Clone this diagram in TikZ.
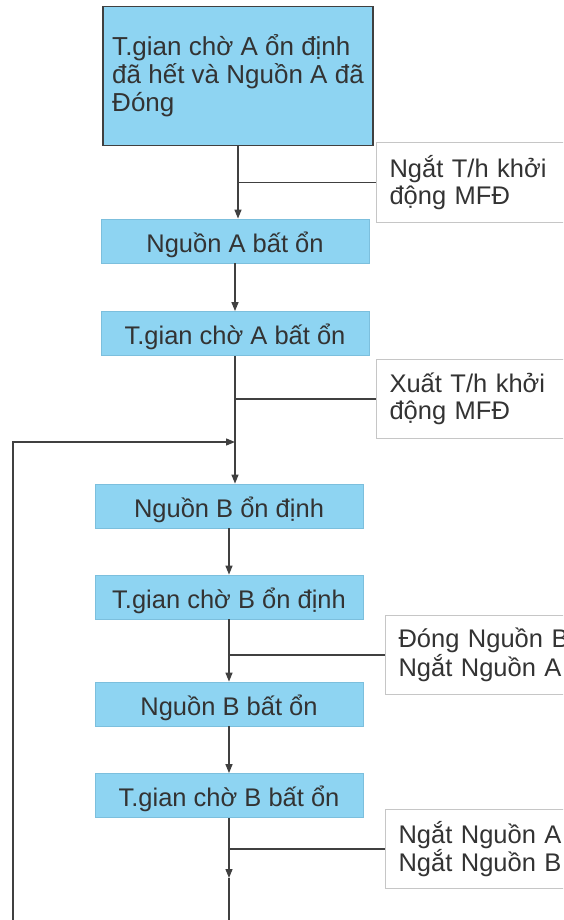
\documentclass[tikz,border=0pt]{standalone}
\usepackage{fontspec}
\setmainfont{Liberation Sans}
\usetikzlibrary{arrows.meta}

\definecolor{boxblue}{HTML}{8ED4F2}
\definecolor{boxedge}{HTML}{7CBFDD}
\definecolor{linegray}{HTML}{404040}
\definecolor{textgray}{HTML}{333333}
\definecolor{sidegray}{HTML}{C6C6C6}

\tikzset{
  stepbox/.style={fill=boxblue, draw=boxedge, line width=0.8pt, text=textgray,
    minimum width=268pt, minimum height=44pt, inner sep=0pt,
    text height=25pt, text depth=3pt,
    font=\fontsize{25.5}{28}\selectfont},
  sidebox/.style={fill=white, draw=sidegray, line width=1pt, text=textgray,
    anchor=west, align=left, text width=190pt, inner xsep=13pt,
    minimum height=79pt, font=\fontsize{25.5}{27}\selectfont},
  flow/.style={draw=linegray, line width=1.3pt},
  arr/.style={-{Triangle[length=9pt,width=7pt]}}
}

\begin{document}
\begin{tikzpicture}[x=1pt,y=-1pt]
\useasboundingbox (0,0) rectangle (563,920);
\clip (0,0) rectangle (563,920);

% boxes of the A side
\node[stepbox, draw=linegray, line width=1.3pt, align=left,
  text height=, text depth=, minimum width=270pt, minimum height=139pt,
  font=\fontsize{26}{28}\selectfont]
  (chodinhA) at (238,76) {T.gian chờ A ổn định\\đã hết và Nguồn A đã\\Đóng};
\node[stepbox] (batonA) at (235,241) {Nguồn A bất ổn};
\node[stepbox] (chobatonA) at (235,333.5) {T.gian chờ A bất ổn};

% boxes of the B side
\node[stepbox] (ondinhB) at (229,506) {Nguồn B ổn định};
\node[stepbox] (chodinhB) at (229,597) {T.gian chờ B ổn định};
\node[stepbox] (batonB) at (229,704) {Nguồn B bất ổn};
\node[stepbox] (chobatonB) at (229,795.5) {T.gian chờ B bất ổn};

% signals on the right
\node[sidebox] (ngatTH) at (376,182.5) {Ngắt T/h khởi\\động MFĐ};
\node[sidebox] (xuatTH) at (376,399) {Xuất T/h khởi\\động MFĐ};
\node[sidebox] (dongB) at (385,655) {Đóng Nguồn B\\Ngắt Nguồn A};
\node[sidebox] (ngatAB) at (385,849) {Ngắt Nguồn A\\Ngắt Nguồn B};

% free ends and the loop back
\coordinate (tipbot) at (229,878);
\coordinate (outbot) at (229,935);
\coordinate (loopstart) at (13,935);
\coordinate (loopcorner) at (13,442);

% main flow
\draw[flow,arr] (chodinhA.south) -- (chodinhA.south |- batonA.north);
\draw[flow,arr] (batonA.south) -- (batonA.south |- chobatonA.north);
\draw[flow,arr] (chobatonA.south) -- (chobatonA.south |- ondinhB.north);
\draw[flow,arr] (ondinhB.south) -- (chodinhB.north);
\draw[flow,arr] (chodinhB.south) -- (batonB.north);
\draw[flow,arr] (batonB.south) -- (chobatonB.north);
\draw[flow,arr] (chobatonB.south) -- (tipbot);
\draw[flow] (tipbot) -- (outbot);

% branches to the signals
\draw[flow] (chodinhA.south |- ngatTH.west) -- (ngatTH.west);
\draw[flow] (chobatonA.south |- xuatTH.west) -- (xuatTH.west);
\draw[flow] (chodinhB.south |- dongB.west) -- (dongB.west);
\draw[flow] (chobatonB.south |- ngatAB.west) -- (ngatAB.west);

% loop back
\draw[flow,arr] (loopstart) -- (loopcorner) -- (chobatonA.south |- loopcorner);

\end{tikzpicture}
\end{document}
